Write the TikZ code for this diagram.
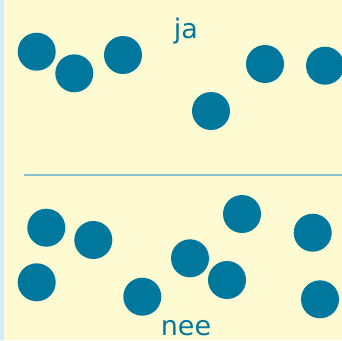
\documentclass[tikz,border=0pt]{standalone}
\usepackage{fontspec}
\setmainfont{DejaVu Sans}
\definecolor{bg}{HTML}{FEFBD2}
\definecolor{strip}{HTML}{D2ECF8}
\definecolor{dotc}{HTML}{00789E}
\definecolor{linec}{HTML}{86C0CC}
\tikzset{
  dot/.style={circle, fill=dotc, draw=none, minimum size=38pt, inner sep=0pt},
  lbl/.style={text=dotc, font=\fontsize{27}{30}\selectfont, anchor=base, inner sep=0pt}
}
\begin{document}
\begin{tikzpicture}[x=1pt,y=-1pt]
\useasboundingbox (0,0) rectangle (342,340);
\fill[bg] (0,0) rectangle (342,340);
\fill[strip] (0,0) rectangle (4,340);
% top group
\node[dot] (t1) at (36.7,51.7) {};
\node[dot] (t2) at (74.3,73.3) {};
\node[dot] (t3) at (123,55) {};
\node[dot] (t4) at (211,111) {};
\node[dot] (t5) at (265,64) {};
\node[dot] (t6) at (325,65.7) {};
\node[lbl] (ja) at (186,38) {ja};
% divider
\coordinate (l1) at (23.5,175.2);
\coordinate (l2) at (342,175.2);
\draw[linec, line width=2.4pt] (l1) -- (l2);
% bottom group
\node[dot] (b1) at (46.3,227.7) {};
\node[dot] (b2) at (93.3,240) {};
\node[dot] (b3) at (36.7,282.3) {};
\node[dot] (b4) at (142.3,296.7) {};
\node[dot] (b5) at (242,214) {};
\node[dot] (b6) at (312.7,232.7) {};
\node[dot] (b7) at (190,258.3) {};
\node[dot] (b8) at (227,280) {};
\node[dot] (b9) at (320,299.3) {};
\node[lbl] (nee) at (186,335.5) {nee};
\end{tikzpicture}
\end{document}
